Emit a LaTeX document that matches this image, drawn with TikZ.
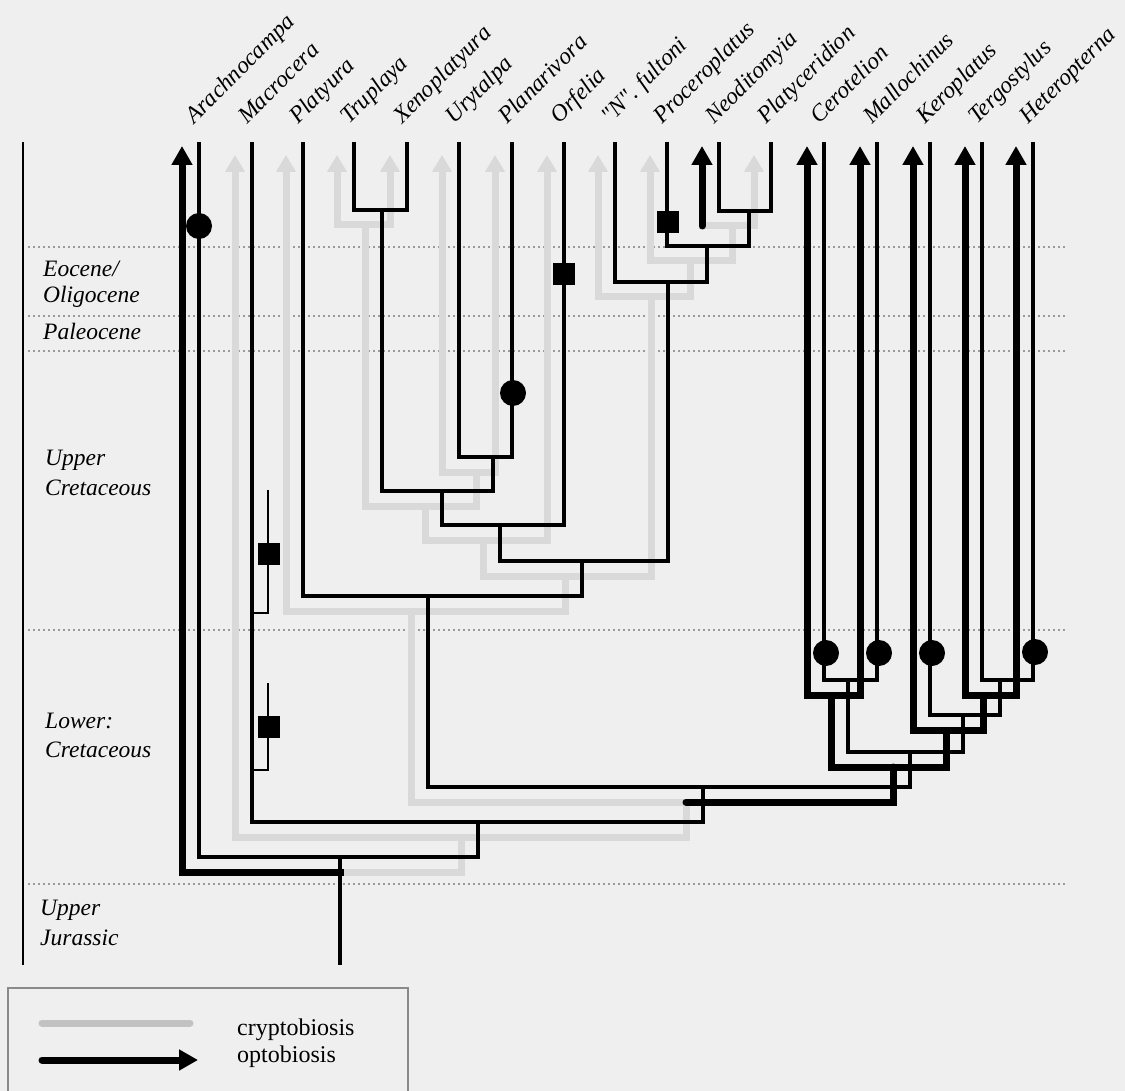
\documentclass[tikz,border=0pt]{standalone}
\usepackage{fontspec}
\setmainfont{Liberation Serif}
\usetikzlibrary{arrows.meta,calc}
\definecolor{bgc}{HTML}{EFEFEF}
\definecolor{crypto}{HTML}{D9D9D9}
\definecolor{legcrypto}{HTML}{C2C2C2}
\definecolor{dotc}{HTML}{9A9A9A}
\definecolor{framec}{HTML}{8A8A8A}
\begin{document}
\begin{tikzpicture}[x=1pt,y=-1pt,
  treeline/.style={draw=black,line width=3.4pt,line join=miter},
  sidebranch/.style={draw=black,line width=2pt,line join=miter},
  cryptopath/.style={draw=crypto,line width=7pt,line join=miter,line cap=rect},
  cryptoarrow/.style={cryptopath,-{Triangle[width=19pt,length=17pt]}},
  optopath/.style={draw=black,line width=7pt,line join=miter,line cap=rect},
  optoarrow/.style={optopath,-{Triangle[width=20pt,length=19pt]}},
  timeline/.style={draw=dotc,line width=1.1pt,dash pattern=on 2pt off 3pt},
  taxon/.style={anchor=base west,rotate=45,inner sep=0pt,font=\fontsize{23.5}{27}\selectfont\itshape},
  period/.style={anchor=base west,inner sep=0pt,font=\fontsize{23.5}{27}\selectfont\itshape},
  legendtext/.style={anchor=base west,inner sep=0pt,font=\fontsize{24}{28}\selectfont},
  gainmark/.style={circle,fill=black,minimum size=26pt,inner sep=0pt},
  sqmark/.style={rectangle,fill=black,minimum size=22pt,inner sep=0pt}]
\useasboundingbox (0,0) rectangle (1125,1091);
\fill[bgc] (0,0) rectangle (1125,1091);

% time boundaries
\foreach \yy [count=\i] in {247,316,351,630,884}{
  \coordinate (dl\i) at (28,\yy);
  \coordinate (dr\i) at (1065,\yy);
  \draw[timeline] (dl\i) -- (dr\i);
}
\coordinate (axTop) at (23,142);
\coordinate (axBot) at (23,965);
\draw[line width=1.8pt] (axTop) -- (axBot);

% tips
\foreach \n/\x in {tArach/199,tMac/252,tPlatyura/303,tTrup/354,tXeno/407,tUry/459,tPlan/512,tOrf/564,tNf/615,tProc/667,tNeo/719,tPlaty/771,tCer/824,tMal/877,tKer/930,tTer/982,tHet/1033}{
  \coordinate (\n) at (\x,142);
  \coordinate (s\n) at (\x-17,155);
  \coordinate (k\n) at (\x-17,146);
}
% internal nodes
\foreach \n/\x/\y in {nTX/382/210,nUP/493/457,nA/442/491,nB/500/525,nNP/749/211,nPr/707/246,nNF/668/282,nC/582/561,nD/428/596,nCM/848/680,nTH/1000/680,nKTH/963/715,nKer/910/752,nE/703/787,nF/478/822,nRoot/340/857}{
  \coordinate (\n) at (\x,\y);
  \coordinate (s\n) at (\x-17,\y+15);
}
\coordinate (rootBase) at (340,965);
\coordinate (sRoot) at (340,872);

% cryptobiosis (grey) paths
\draw[cryptopath] (sRoot) -| (snF);
\draw[cryptoarrow] (snF) -| (stMac);
\draw[cryptopath] (snF) -| (snE);
\draw[cryptopath] (snE) -| (snD);
\draw[cryptoarrow] (snD) -| (stPlatyura);
\draw[cryptopath] (snD) -| (snC);
\draw[cryptopath] (snC) -| (snB);
\draw[cryptoarrow] (snB) -| (stOrf);
\draw[cryptopath] (snB) -| (snA);
\draw[cryptopath] (snA) -| (snTX);
\draw[cryptoarrow] (snTX) -| (stTrup);
\draw[cryptoarrow] (snTX) -| (stXeno);
\draw[cryptopath] (snA) -| (snUP);
\draw[cryptoarrow] (snUP) -| (stUry);
\draw[cryptoarrow] (snUP) -| (stPlan);
\draw[cryptopath] (snC) -| (snNF);
\draw[cryptoarrow] (snNF) -| (stNf);
\draw[cryptopath] (snNF) -| (snPr);
\draw[cryptoarrow] (snPr) -| (stProc);
\draw[cryptopath] (snPr) -| (snNP);
\draw[cryptoarrow] (snNP) -| (stPlaty);
\coordinate (neoStart) at (snNP -| ktNeo);
\draw[cryptopath] (snNP) -- (neoStart);

% optobiosis (black) paths
\draw[optoarrow] (sRoot) -| (ktArach);
\draw[optopath,line cap=round] (snE) -| (snKer);
\draw[optopath] (snKer) -| (snCM);
\draw[optoarrow] (snCM) -| (ktCer);
\draw[optoarrow] (snCM) -| (ktMal);
\draw[optopath] (snKer) -| (snKTH);
\draw[optoarrow] (snKTH) -| (ktKer);
\draw[optopath] (snKTH) -| (snTH);
\draw[optoarrow] (snTH) -| (ktTer);
\draw[optoarrow] (snTH) -| (ktHet);
\draw[optoarrow,line cap=round] (neoStart) -- (ktNeo);

% phylogeny
\draw[treeline] (tTrup) |- (nTX) -| (tXeno);
\draw[treeline] (tUry) |- (nUP) -| (tPlan);
\draw[treeline] (nTX) |- (nA) -| (nUP);
\draw[treeline] (nA) |- (nB) -| (tOrf);
\draw[treeline] (tNeo) |- (nNP) -| (tPlaty);
\draw[treeline] (tProc) |- (nPr) -| (nNP);
\draw[treeline] (tNf) |- (nNF) -| (nPr);
\draw[treeline] (nB) |- (nC) -| (nNF);
\draw[treeline] (tPlatyura) |- (nD) -| (nC);
\draw[treeline] (tCer) |- (nCM) -| (tMal);
\draw[treeline] (tTer) |- (nTH) -| (tHet);
\draw[treeline] (tKer) |- (nKTH) -| (nTH);
\draw[treeline] (nCM) |- (nKer) -| (nKTH);
\draw[treeline] (nD) |- (nE) -| (nKer);
\draw[treeline] (tMac) |- (nF) -| (nE);
\draw[treeline] (tArach) |- (nRoot) -| (nF);
\draw[treeline] (nRoot) -- (rootBase);

% Macrocera side branches
\coordinate (mbA1) at (252,613); \coordinate (mbA2) at (268,490);
\coordinate (mbB1) at (252,770); \coordinate (mbB2) at (268,683);
\draw[sidebranch] (mbA1) -| (mbA2);
\draw[sidebranch] (mbB1) -| (mbB2);

% character markers
\node[gainmark] (cArach) at (199,226) {};
\node[gainmark] (cPlan) at (513,393) {};
\node[gainmark] (cCer) at (826,653) {};
\node[gainmark] (cMal) at (879,653) {};
\node[gainmark] (cKer) at (932,653) {};
\node[gainmark] (cHet) at (1035,652) {};
\node[sqmark] (qOrf) at (564,274) {};
\node[sqmark] (qProc) at (668,222) {};
\node[sqmark] (qMacA) at (269,554) {};
\node[sqmark] (qMacB) at (269,727) {};

% taxon labels
\foreach \n/\t in {tArach/Arachnocampa,tMac/Macrocera,tPlatyura/Platyura,tTrup/Truplaya,tXeno/Xenoplatyura,tUry/Urytalpa,tPlan/Planarivora,tOrf/Orfelia,tNf/{\addfontfeatures{Ligatures=TeXOff}"N". fultoni},tProc/Proceroplatus,tNeo/Neoditomyia,tPlaty/Platyceridion,tCer/Cerotelion,tMal/Mallochinus,tKer/Keroplatus,tTer/Tergostylus,tHet/Heteropterna}{
  \node[taxon] (l\n) at ($(\n)+(-5,-17)$) {\t};
}

% period labels
\node[period] (pEoc1) at (43,277) {Eocene/};
\node[period] (pEoc2) at (43,303) {Oligocene};
\node[period] (pPal) at (43,340) {Paleocene};
\node[period] (pUC1) at (45,465) {Upper};
\node[period] (pUC2) at (45,495) {Cretaceous};
\node[period] (pLC1) at (45,728) {Lower:};
\node[period] (pLC2) at (45,757) {Cretaceous};
\node[period] (pUJ1) at (40,915) {Upper};
\node[period] (pUJ2) at (40,945) {Jurassic};

% legend
\coordinate (lb1) at (8,1091); \coordinate (lb2) at (8,988);
\coordinate (lb3) at (408,988); \coordinate (lb4) at (408,1091);
\draw[framec,line width=1.3pt] (lb1) -- (lb2) -- (lb3) -- (lb4);
\coordinate (lgA) at (42,1023); \coordinate (lgB) at (190,1023);
\coordinate (lkA) at (42,1060); \coordinate (lkB) at (198,1060);
\draw[draw=legcrypto,line width=7pt,line cap=round] (lgA) -- (lgB);
\draw[optoarrow,line cap=round] (lkA) -- (lkB);
\node[legendtext] (tCrypto) at (237,1035) {cryptobiosis};
\node[legendtext] (tOpto) at (237,1062) {optobiosis};
\end{tikzpicture}
\end{document}
